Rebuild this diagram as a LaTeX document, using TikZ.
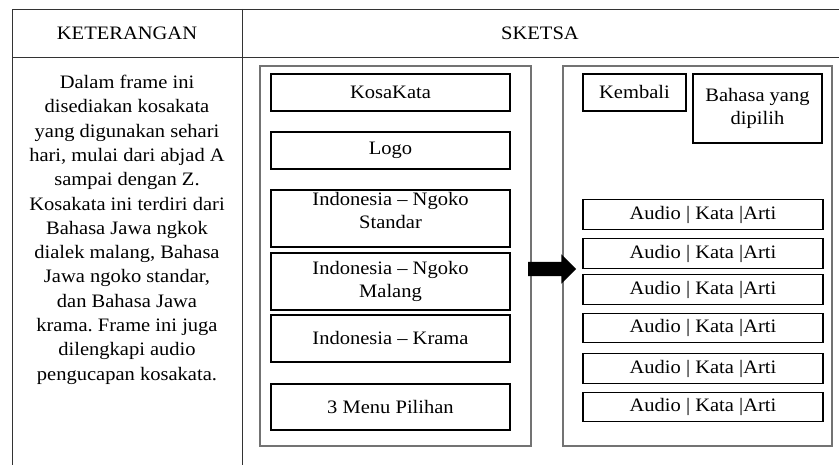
\documentclass[tikz,border=0pt]{standalone}
\usepackage{fontspec}
\setmainfont[FakeStretch=1.08]{Liberation Serif}
\usetikzlibrary{shapes.arrows}
\frenchspacing
\begin{document}
\begin{tikzpicture}[x=1pt,y=-1pt,
  tbl/.style={draw=black!80, line width=0.9pt},
  frm/.style={draw=black!55, line width=1.6pt, inner sep=0pt},
  bx/.style={draw=black, line width=1.1pt, inner sep=0pt, align=center, font=\fontsize{19}{23}\selectfont},
  txt/.style={inner sep=0pt, align=center, font=\fontsize{19}{24.3}\selectfont}]
\useasboundingbox (0,0) rectangle (839,465);
% table
\draw[tbl] (12,465) -- (12,9) -- (839,9);
\draw[tbl] (12,57) -- (839,57);
\draw[tbl] (242,9) -- (242,465);
\node[txt] (h1) at (127,33) {KETERANGAN};
\node[txt] (h2) at (540,33) {SKETSA};
\node[txt, anchor=north] (desc) at (127,75) {Dalam frame ini\\disediakan kosakata\\yang digunakan sehari\\hari, mulai dari abjad A\\sampai dengan Z.\\Kosakata ini terdiri dari\\Bahasa Jawa ngkok\\dialek malang, Bahasa\\Jawa ngoko standar,\\dan Bahasa Jawa\\krama. Frame ini juga\\dilengkapi audio\\pengucapan kosakata.};
% frames
\node[frm, minimum width=271, minimum height=380] (f1) at (395.5,256) {};
\node[frm, minimum width=269, minimum height=380] (f2) at (697.5,256) {};
% left boxes
\node[bx, minimum width=239, minimum height=37] (kosa) at (390.5,92.5) {KosaKata};
\node[bx, minimum width=239, minimum height=37] (logo) at (390.5,150.5) {Logo};
\node[bx, minimum width=239, minimum height=57] (std) at (390.5,218.5) {};
\node[txt, font=\fontsize{19}{23}\selectfont] (stdt) at (390.5,210.5) {Indonesia – Ngoko\\Standar};
\node[bx, minimum width=239, minimum height=57] (mlg) at (390.5,281.5) {Indonesia – Ngoko\\Malang};
\node[bx, minimum width=239, minimum height=47] (krm) at (390.5,338.5) {Indonesia – Krama};
\node[bx, minimum width=239, minimum height=46] (menu) at (390.5,407) {3 Menu Pilihan};
% right boxes
\node[bx, minimum width=103, minimum height=37] (kmb) at (634.5,92.5) {Kembali};
\node[bx, minimum width=129, minimum height=69] (bhs) at (757.5,108.5) {Bahasa yang\\dipilih};
\foreach \i/\y in {1/214.5,2/253.5,3/289.5,4/328,5/368.5,6/407}
  \node[bx, minimum width=240, minimum height=29.5] (a\i) at (703,\y) {Audio | Kata |Arti};
% arrow
\node[single arrow, fill=black, draw=none, inner sep=7pt, minimum height=48, single arrow head extend=7.5] (arr) at (548.5,269) {};
\end{tikzpicture}
\end{document}
